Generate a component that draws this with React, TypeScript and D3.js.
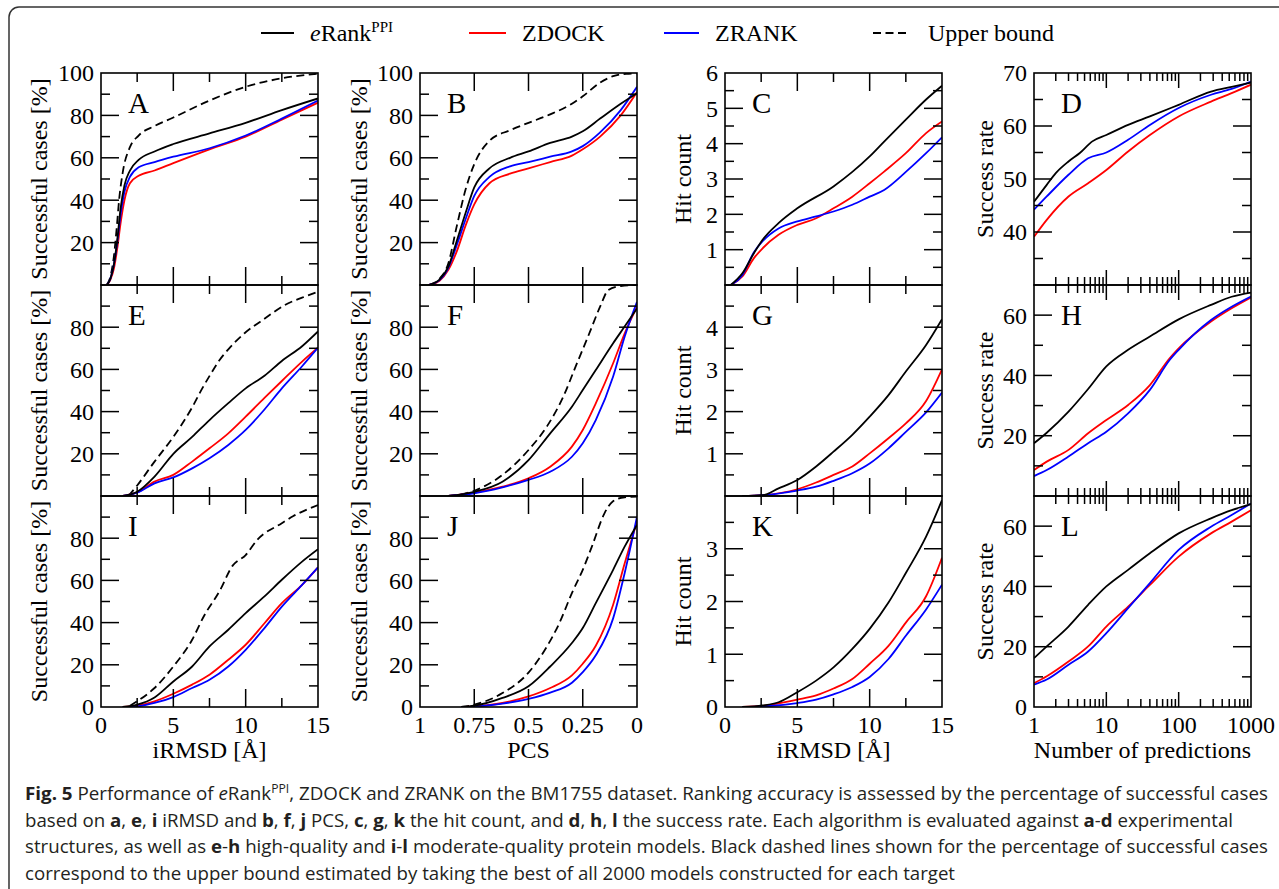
import React from "react";
import * as d3 from "d3";

type Pt = [number, number];

// ---------------- DATA ----------------
// Panel A (experimental, iRMSD vs % successful)
const A_erank: Pt[] = [[0.4,0],[0.65,3],[0.9,10],[1.12,21],[1.35,36],[1.62,47],[2,54],[2.6,59],[3.7,63],[5,66.5],[7.5,71.5],[10,76.5],[12.5,82.5],[15,88]];
const A_zdock: Pt[] = [[0.4,0],[0.65,2.5],[0.9,8],[1.12,17],[1.35,29],[1.62,40],[2,48],[2.6,51.5],[3.7,54],[5,57.5],[7.5,64],[10,70],[12.5,78],[15,86]];
const A_zrank: Pt[] = [[0.4,0],[0.65,3],[0.9,10],[1.12,20],[1.35,33],[1.62,44],[2,51],[2.6,55.5],[3.7,58],[5,60.5],[7.5,64.5],[10,70.5],[12.5,78.5],[15,87]];
const A_upper: Pt[] = [[0.4,0],[0.65,4],[0.9,14],[1.1,28],[1.25,40],[1.5,53],[2,65],[2.6,70.5],[3.7,75],[5,79],[7.5,87],[10,93.5],[12.5,97.5],[15,99.7]];

// Panel B (experimental, PCS vs % successful)
const B_erank: Pt[] = [[0.96,0],[0.91,2.5],[0.87,8.5],[0.83,21],[0.79,34],[0.75,46],[0.68,55],[0.585,60],[0.5,63],[0.4,67],[0.3,70],[0.25,72.5],[0.17,78.5],[0.075,85.5],[0,90.5]];
const B_zdock: Pt[] = [[0.96,0],[0.91,2],[0.87,7],[0.83,16],[0.79,28],[0.75,38],[0.68,48],[0.585,52.5],[0.5,55],[0.4,58],[0.3,61],[0.25,64],[0.17,70],[0.075,80],[0,91]];
const B_zrank: Pt[] = [[0.96,0],[0.91,2.3],[0.87,8],[0.83,19],[0.79,31],[0.75,42],[0.68,51],[0.585,56],[0.5,58],[0.4,60.5],[0.3,63],[0.25,65.5],[0.17,72],[0.075,82.5],[0,93.5]];
const B_upper: Pt[] = [[0.96,0],[0.91,3],[0.87,10],[0.83,28],[0.79,45],[0.75,57],[0.68,68],[0.585,73],[0.5,76.5],[0.4,80.5],[0.3,85.5],[0.25,89],[0.17,95.5],[0.11,98.5],[0.05,99.6],[0,99.8]];

// Panel C (experimental, hit count)
const C_erank: Pt[] = [[0.4,0],[1.2,0.33],[2,0.9],[2.6,1.28],[3.7,1.75],[5,2.17],[7.5,2.79],[8.8,3.2],[10,3.64],[11,4.06],[12.5,4.68],[13.9,5.25],[15,5.64]];
const C_zdock: Pt[] = [[0.4,0],[1.2,0.24],[2,0.76],[2.6,1.04],[3.7,1.42],[5,1.7],[6.3,1.89],[7.5,2.17],[8.8,2.5],[10,2.88],[11,3.21],[12.5,3.73],[13.9,4.3],[15,4.63]];
const C_zrank: Pt[] = [[0.4,0],[1.2,0.28],[2,0.93],[2.6,1.24],[3.7,1.6],[5,1.8],[6.3,1.94],[7.5,2.08],[8.8,2.27],[10,2.5],[11,2.69],[12.5,3.2],[13.9,3.73],[15,4.18]];

// Panel D (experimental, success rate)
const D_erank: Pt[] = [[1,45.7],[1.5,48.9],[2,51.1],[3,53.3],[4.3,54.9],[6.4,57.1],[10,58.3],[20,60.2],[40,61.8],[100,64],[280,66.5],[540,67.4],[1000,68.2]];
const D_zdock: Pt[] = [[1,39.1],[1.5,42.3],[3,46.7],[5.6,49.2],[10,51.7],[20,55.2],[40,58.3],[100,61.8],[280,64.6],[540,66.2],[1000,67.8]];
const D_zrank: Pt[] = [[1,44.2],[1.5,46.7],[3,50.8],[5.6,53.9],[10,55],[20,57.4],[40,60.2],[100,63.4],[280,65.9],[540,67],[1000,68.4]];

// Panel E (high-quality models, iRMSD)
const E_erank: Pt[] = [[1.5,0],[2.5,2],[3.7,9.2],[5,20],[6.3,28],[7.5,36],[8.8,44],[10,51],[11.3,57],[12.5,64],[13.9,71],[15,78]];
const E_zdock: Pt[] = [[1.5,0],[2.5,1.7],[3.7,6.8],[5,10],[6.3,16.3],[7.5,22.6],[8.8,29.7],[10,37.6],[11.3,46.5],[12.5,54.5],[13.9,63.7],[15,70.3]];
const E_zrank: Pt[] = [[1.5,0],[2.5,1.6],[3.7,6],[5,8.8],[6.3,13.1],[7.5,17.9],[8.8,24.2],[10,31.3],[11.3,41],[12.5,51],[13.9,61.5],[15,70.3]];
const E_upper: Pt[] = [[1.9,0],[2.5,5],[3.7,16.3],[5,28],[6.3,42],[7,51],[7.6,58],[8.2,64.5],[8.8,69.5],[9.9,77],[11.3,84],[12.7,90.5],[13.9,94],[15,96.8]];

// Panel F (high-quality models, PCS)
const F_erank: Pt[] = [[0.87,0],[0.75,2],[0.62,6.8],[0.5,17],[0.4,29.7],[0.3,42.3],[0.25,50.2],[0.19,59.7],[0.11,72.4],[0.057,80.3],[0,88.9]];
const F_zdock: Pt[] = [[0.87,0],[0.75,1.6],[0.62,4.4],[0.5,8.4],[0.4,13.9],[0.3,23.4],[0.25,31.3],[0.19,43.9],[0.11,62.9],[0.057,77],[0,89.7]];
const F_zrank: Pt[] = [[0.87,0],[0.75,1.3],[0.62,4.1],[0.5,7.6],[0.4,11.5],[0.3,18.6],[0.25,25],[0.19,36],[0.11,56.6],[0.057,75.5],[0,92]];
const F_upper: Pt[] = [[0.87,0],[0.75,2.5],[0.62,10],[0.5,21.8],[0.415,33],[0.34,47],[0.283,61.3],[0.226,75.5],[0.17,89.7],[0.132,97.6],[0.075,99.5],[0,100]];

// Panel G (high-quality models, hit count)
const G_erank: Pt[] = [[1.2,0],[2.6,0.02],[3.7,0.18],[5,0.38],[6.3,0.7],[7.5,1.05],[8.8,1.45],[10,1.88],[11.3,2.39],[12.5,2.95],[13.9,3.58],[15,4.19]];
const G_zdock: Pt[] = [[1.2,0],[2.6,0.02],[5,0.16],[6.3,0.32],[7.5,0.5],[8.8,0.7],[10,1.01],[11.3,1.37],[12.5,1.72],[13.9,2.25],[15,3.0]];
const G_zrank: Pt[] = [[1.2,0],[2.6,0.02],[5,0.13],[6.3,0.22],[7.5,0.36],[8.8,0.54],[10,0.77],[11.3,1.13],[12.5,1.52],[13.9,1.98],[15,2.45]];

// Panel H (high-quality models, success rate)
const H_erank: Pt[] = [[1,17.5],[1.5,21],[3,28],[5.6,35.5],[10,43],[20,48.5],[40,52.9],[100,58.6],[280,63.4],[540,66.1],[1000,67.5]];
const H_zdock: Pt[] = [[1,8.6],[1.5,11.4],[3,15.3],[5.6,20.8],[10,25.2],[20,30.2],[40,36.8],[75,45.7],[100,49],[280,57.9],[540,62.3],[1000,65.9]];
const H_zrank: Pt[] = [[1,6.6],[1.5,8.6],[3,13.1],[5.6,17.5],[10,21.3],[20,27.4],[40,35.2],[75,45.1],[100,48.5],[280,58.4],[540,62.8],[1000,66.2]];

// Panel I (moderate-quality models, iRMSD)
const I_erank: Pt[] = [[1.5,0],[2.5,1.1],[3.7,4.5],[5,12.1],[6.3,19.2],[7.5,28.7],[8.8,36.6],[10,44.5],[11.3,52.4],[12.5,60.3],[13.9,68.9],[15,74.8]];
const I_zdock: Pt[] = [[1.5,0],[2.5,0.6],[3.7,2.7],[5,6.3],[6.3,10.6],[7.5,15.3],[8.8,22.4],[10,29.5],[11.3,39.7],[12.5,49.2],[13.9,57.9],[15,66.2]];
const I_zrank: Pt[] = [[1.5,0],[2.5,0.3],[3.7,1.9],[5,4.7],[6.3,9],[7.5,12.9],[8.8,19.2],[10,27.1],[11.3,37.4],[12.5,47.6],[13.9,57.9],[15,66.2]];
const I_upper: Pt[] = [[2,0.6],[2.5,2.7],[3.7,9],[5,19.2],[6.3,31.9],[7.1,42.9],[8.2,55],[9.1,67],[10,72],[10.8,79.2],[12.5,87.1],[13.3,90.5],[15,95.7]];

// Panel J (moderate-quality models, PCS)
const J_erank: Pt[] = [[0.81,0],[0.75,0.6],[0.62,4.3],[0.5,9.8],[0.4,19.2],[0.3,30.3],[0.25,37.4],[0.19,49.2],[0.11,65],[0.057,76],[0,86.3]];
const J_zdock: Pt[] = [[0.81,0],[0.75,0.3],[0.62,1.9],[0.5,5],[0.4,9],[0.3,15],[0.25,20.5],[0.19,29],[0.11,48.5],[0.057,68],[0,88]];
const J_zrank: Pt[] = [[0.81,0],[0.75,0.2],[0.62,1.6],[0.5,3.8],[0.4,6.8],[0.3,11.5],[0.25,16.5],[0.19,24.5],[0.11,42],[0.057,63.4],[0,90.2]];
const J_upper: Pt[] = [[0.81,0],[0.75,1.1],[0.62,6.6],[0.5,16.3],[0.415,28.7],[0.358,39.7],[0.3,54],[0.25,65],[0.208,76],[0.15,91.8],[0.113,97.3],[0.057,99.4],[0,99.7]];

// Panel K (moderate-quality models, hit count)
const K_erank: Pt[] = [[1.2,0],[2.6,0.03],[3.7,0.09],[5,0.28],[6.3,0.5],[7.5,0.75],[8.8,1.1],[10,1.48],[11.3,1.98],[12.5,2.54],[13.9,3.23],[15,3.92]];
const K_zdock: Pt[] = [[1.2,0],[2.6,0.02],[5,0.14],[6.3,0.22],[7.5,0.35],[8.8,0.53],[10,0.82],[11.3,1.16],[12.5,1.6],[13.9,2.1],[15,2.83]];
const K_zrank: Pt[] = [[1.2,0],[2.6,0.01],[5,0.075],[6.3,0.14],[7.5,0.24],[8.8,0.38],[10,0.57],[11.3,0.91],[12.5,1.35],[13.9,1.85],[15,2.32]];

// Panel L (moderate-quality models, success rate)
const L_erank: Pt[] = [[1,16.2],[1.5,20.1],[3,26.7],[5.6,33.9],[10,40],[20,45.5],[40,51],[100,57.6],[280,62.6],[540,65.3],[1000,67.3]];
const L_zdock: Pt[] = [[1,7.9],[1.5,10.2],[3,15.1],[5.6,20.1],[10,26.7],[20,33.3],[40,40.5],[100,49.9],[280,57.6],[540,61.5],[1000,65.3]];
const L_zrank: Pt[] = [[1,7.4],[1.5,9.1],[3,14],[5.6,18.4],[10,24.5],[20,32.8],[40,41.1],[100,52.1],[280,59.8],[540,63.7],[1000,67.5]];

// tick labels
const pctTicksTop = [20, 40, 60, 80, 100];
const pctTicksMid = [20, 40, 60, 80];
const pctTicksBot = [0, 20, 40, 60, 80];
const hitTicksC = [1, 2, 3, 4, 5, 6];
const hitTicksG = [1, 2, 3, 4];
const hitTicksK = [0, 1, 2, 3];
const rateTicksD = [40, 50, 60, 70];
const rateTicksH = [20, 40, 60];
const rateTicksL = [0, 20, 40, 60];
const rmsdTicks = [0, 5, 10, 15];
const pcsTicks = [1, 0.75, 0.5, 0.25, 0];
const pcsTickLabels = ["1", "0.75", "0.5", "0.25", "0"];
const predTicks = [1, 10, 100, 1000];
const xTitles = ["iRMSD [Å]", "PCS", "iRMSD [Å]", "Number of predictions"];
const yTitles = ["Successful cases [%]", "Successful cases [%]", "Hit count", "Success rate"];
const panelLetters = ["A","B","C","D","E","F","G","H","I","J","K","L"];

// ---------------- LAYOUT / STYLE ----------------
const SERIF = "'Liberation Serif', 'Times New Roman', Times, 'DejaVu Serif', serif";
const CAPF = "'Open Sans', 'Noto Sans', 'Liberation Sans', sans-serif";
const colLeft = [101, 420, 725, 1034];
const plotW = 217;
const rowTop = [73, 285, 496];
const rowBot = [285, 496, 707];
const yTitleX = [47, 367, 691, 993];
const RED = "#ff0000";
const BLUE = "#0000ff";

type Series = { data: Pt[]; color: string; dash?: boolean };
type PanelDef = {
  col: number; row: number; letter: string;
  yDomain: [number, number]; yMajor: number; yMinor: number; yLabels: number[];
  series: Series[];
};

function mk(col: number, row: number, yDomain: [number, number], yMajor: number, yMinor: number, yLabels: number[], er: Pt[], zd: Pt[], zr: Pt[], up?: Pt[]): PanelDef {
  const series: Series[] = [];
  if (up) series.push({ data: up, color: "#000", dash: true });
  series.push({ data: zd, color: RED });
  series.push({ data: zr, color: BLUE });
  series.push({ data: er, color: "#000" });
  return { col, row, letter: panelLetters[row * 4 + col], yDomain, yMajor, yMinor, yLabels, series };
}

const PANELS: PanelDef[] = [
  mk(0, 0, [0, 100], 20, 10, pctTicksTop, A_erank, A_zdock, A_zrank, A_upper),
  mk(1, 0, [0, 100], 20, 10, pctTicksTop, B_erank, B_zdock, B_zrank, B_upper),
  mk(2, 0, [0, 6], 1, 0.5, hitTicksC, C_erank, C_zdock, C_zrank),
  mk(3, 0, [30, 70], 10, 5, rateTicksD, D_erank, D_zdock, D_zrank),
  mk(0, 1, [0, 100], 20, 10, pctTicksMid, E_erank, E_zdock, E_zrank, E_upper),
  mk(1, 1, [0, 100], 20, 10, pctTicksMid, F_erank, F_zdock, F_zrank, F_upper),
  mk(2, 1, [0, 5], 1, 0.5, hitTicksG, G_erank, G_zdock, G_zrank),
  mk(3, 1, [0, 70], 20, 10, rateTicksH, H_erank, H_zdock, H_zrank),
  mk(0, 2, [0, 100], 20, 10, pctTicksBot, I_erank, I_zdock, I_zrank, I_upper),
  mk(1, 2, [0, 100], 20, 10, pctTicksBot, J_erank, J_zdock, J_zrank, J_upper),
  mk(2, 2, [0, 4], 1, 0.5, hitTicksK, K_erank, K_zdock, K_zrank),
  mk(3, 2, [0, 70], 20, 10, rateTicksL, L_erank, L_zdock, L_zrank),
];

function xScaleFor(col: number): any {
  const x0 = colLeft[col], x1 = x0 + plotW;
  if (col === 3) return d3.scaleLog().domain([1, 1000]).range([x0, x1]);
  if (col === 1) return d3.scaleLinear().domain([1, 0]).range([x0, x1]);
  return d3.scaleLinear().domain([0, 15]).range([x0, x1]);
}

function xTickSets(col: number): { major: number[]; minor: number[]; majLen: number; minLen: number } {
  if (col === 3) {
    const minor: number[] = [];
    [1, 10, 100].forEach((d) => { for (let k = 2; k <= 9; k++) minor.push(d * k); });
    return { major: [10, 100], minor, majLen: 15, minLen: 8 };
  }
  if (col === 1) return { major: [0.75, 0.5, 0.25], minor: [], majLen: 18, minLen: 9 };
  return { major: [5, 10], minor: [2.5, 7.5, 12.5], majLen: 18, minLen: 9 };
}

function Panel({ p }: { p: PanelDef }) {
  const x0 = colLeft[p.col], x1 = x0 + plotW;
  const y0 = rowTop[p.row], y1 = rowBot[p.row];
  const xs = xScaleFor(p.col);
  const ys = d3.scaleLinear().domain(p.yDomain).range([y1, y0]);
  const line = d3.line<Pt>().x((d) => xs(d[0])).y((d) => ys(d[1])).curve(d3.curveMonotoneX);
  const clipId = `clip-${p.letter}`;
  const xt = xTickSets(p.col);
  const ticks: any[] = [];
  let k = 0;
  const addX = (v: number, len: number) => {
    const X = xs(v);
    ticks.push(<line key={k++} x1={X} x2={X} y1={y1} y2={y1 - len} />);
    ticks.push(<line key={k++} x1={X} x2={X} y1={y0} y2={y0 + len} />);
  };
  xt.major.forEach((v) => addX(v, xt.majLen));
  xt.minor.forEach((v) => addX(v, xt.minLen));
  const [ya, yb] = p.yDomain;
  const yVals = d3.range(ya, yb + 1e-9, p.yMinor);
  yVals.forEach((v) => {
    if (Math.abs(v - ya) < 1e-9 || Math.abs(v - yb) < 1e-9) return;
    const isMajor = Math.abs((v / p.yMajor) - Math.round(v / p.yMajor)) < 1e-6;
    const len = isMajor ? 18 : 9;
    const Y = ys(v);
    ticks.push(<line key={k++} x1={x0} x2={x0 + len} y1={Y} y2={Y} />);
    ticks.push(<line key={k++} x1={x1} x2={x1 - len} y1={Y} y2={Y} />);
  });

  return (
    <g>
      <defs>
        <clipPath id={clipId}>
          <rect x={x0} y={y0} width={plotW} height={y1 - y0} />
        </clipPath>
      </defs>
      <g clipPath={`url(#${clipId})`} fill="none" strokeLinejoin="round">
        {p.series.map((s, i) => (
          <path key={i} d={line(s.data) || ""} stroke={s.color} strokeWidth={1.8} strokeDasharray={s.dash ? "8 4.5" : undefined} />
        ))}
      </g>
      <g stroke="#000" strokeWidth={1.5}>{ticks}</g>
      <rect x={x0} y={y0} width={plotW} height={y1 - y0} fill="none" stroke="#000" strokeWidth={1.6} />
      {p.yLabels.map((v) => (
        <text key={v} x={x0 - 7} y={ys(v)} dy="0.35em" textAnchor="end" fontSize={24} style={{ fontFamily: SERIF }}>{v}</text>
      ))}
      <text x={x0 + 27} y={y0 + 40} fontSize={29} style={{ fontFamily: SERIF }}>{p.letter}</text>
    </g>
  );
}

function BottomAxis({ col }: { col: number }) {
  const xs = xScaleFor(col);
  const vals = col === 1 ? pcsTicks : col === 3 ? predTicks : rmsdTicks;
  const labels = col === 1 ? pcsTickLabels : vals.map(String);
  const cx = colLeft[col] + plotW / 2;
  return (
    <g fontSize={24} textAnchor="middle" style={{ fontFamily: SERIF }}>
      {vals.map((v, i) => (
        <text key={i} x={xs(v)} y={733}>{labels[i]}</text>
      ))}
      <text x={cx} y={758}>{xTitles[col]}</text>
    </g>
  );
}

function YTitles() {
  const out: any[] = [];
  for (let c = 0; c < 4; c++) {
    for (let r = 0; r < 3; r++) {
      const cy = (rowTop[r] + rowBot[r]) / 2;
      out.push(
        <text key={`${c}-${r}`} transform={`translate(${yTitleX[c]},${cy}) rotate(-90)`} textAnchor="middle" fontSize={24} style={{ fontFamily: SERIF }}>
          {yTitles[c]}
        </text>
      );
    }
  }
  return <g>{out}</g>;
}

function Legend() {
  const ly = 33;
  return (
    <g fontSize={24} style={{ fontFamily: SERIF }}>
      <line x1={261} x2={294} y1={ly} y2={ly} stroke="#000" strokeWidth={1.8} />
      <text x={310} y={41}><tspan fontStyle="italic">e</tspan>Rank<tspan fontSize={15} dy={-9}>PPI</tspan></text>
      <line x1={469} x2={506} y1={ly} y2={ly} stroke={RED} strokeWidth={1.8} />
      <text x={522} y={41}>ZDOCK</text>
      <line x1={664} x2={699} y1={ly} y2={ly} stroke={BLUE} strokeWidth={1.8} />
      <text x={715} y={41}>ZRANK</text>
      <line x1={873} x2={909} y1={ly} y2={ly} stroke="#000" strokeWidth={1.8} strokeDasharray="8 4.5" />
      <text x={928} y={41}>Upper bound</text>
    </g>
  );
}

function Caption() {
  const B = (t: string) => <tspan fontWeight="bold">{t}</tspan>;
  return (
    <g fontSize={18.5} fill="#231f20" style={{ fontFamily: CAPF }}>
      <text x={25} y={800} textLength={1243} lengthAdjust="spacingAndGlyphs">
        {B("Fig. 5")}{" Performance of "}<tspan fontStyle="italic">e</tspan>{"Rank"}<tspan fontSize={12} dy={-7}>PPI</tspan><tspan dy={7}>{", ZDOCK and ZRANK on the BM1755 dataset. Ranking accuracy is assessed by the percentage of successful cases"}</tspan>
      </text>
      <text x={25} y={826.5} textLength={1208} lengthAdjust="spacingAndGlyphs">
        {"based on "}{B("a")}{", "}{B("e")}{", "}{B("i")}{" iRMSD and "}{B("b")}{", "}{B("f")}{", "}{B("j")}{" PCS, "}{B("c")}{", "}{B("g")}{", "}{B("k")}{" the hit count, and "}{B("d")}{", "}{B("h")}{", "}{B("l")}{" the success rate. Each algorithm is evaluated against "}{B("a")}{"-"}{B("d")}{" experimental"}
      </text>
      <text x={25} y={853} textLength={1243} lengthAdjust="spacingAndGlyphs">
        {"structures, as well as "}{B("e")}{"-"}{B("h")}{" high-quality and "}{B("i")}{"-"}{B("l")}{" moderate-quality protein models. Black dashed lines shown for the percentage of successful cases"}
      </text>
      <text x={25} y={879.5} textLength={930} lengthAdjust="spacingAndGlyphs">
        {"correspond to the upper bound estimated by taking the best of all 2000 models constructed for each target"}
      </text>
    </g>
  );
}

export default function App() {
  return (
    <svg width={1279} height={889} viewBox="0 0 1279 889" style={{ position: "absolute", left: 0, top: 0, background: "#fff" }}>
      <rect x={0} y={0} width={1279} height={889} fill="#fff" />
      <rect x={9} y={7} width={1300} height={900} rx={10} ry={10} fill="none" stroke="#333" strokeWidth={1.5} />
      <Legend />
      {PANELS.map((p) => <Panel key={p.letter} p={p} />)}
      {[0, 1, 2, 3].map((c) => <BottomAxis key={c} col={c} />)}
      <YTitles />
      <Caption />
    </svg>
  );
}
